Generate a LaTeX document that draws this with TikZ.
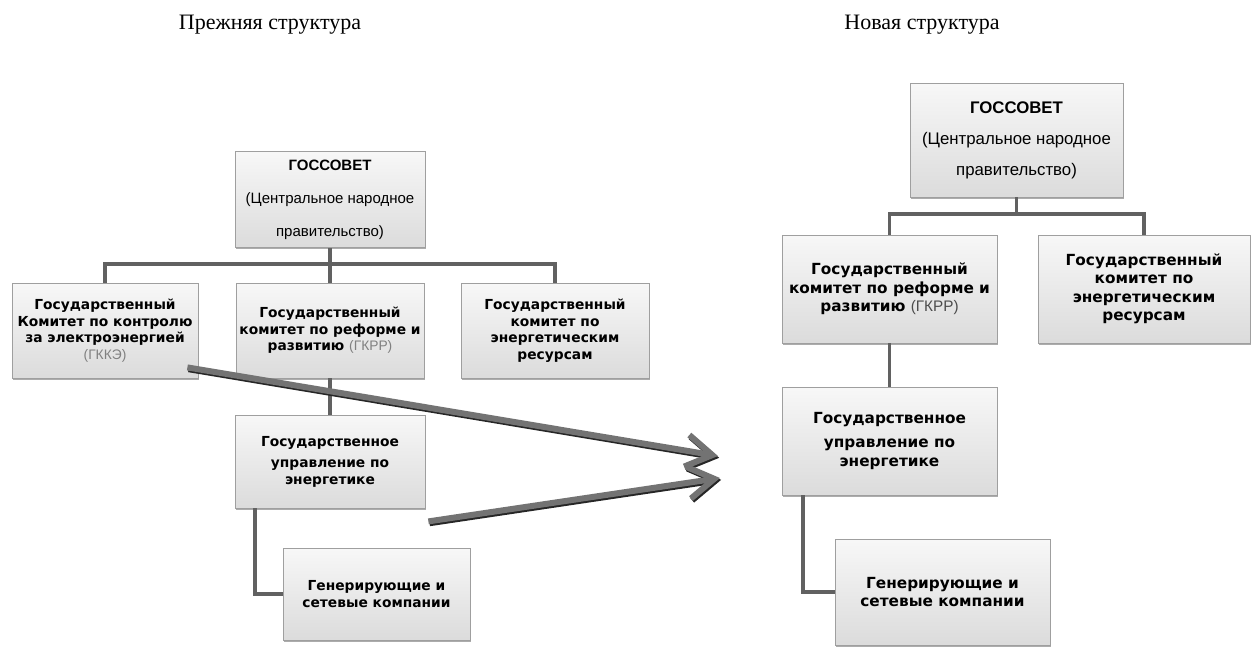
\documentclass[tikz,border=0pt]{standalone}
\usepackage{fontspec}
\setmainfont{Liberation Serif}
\setsansfont{Liberation Sans}
\newfontfamily\boxfont{DejaVu Sans}
\usetikzlibrary{arrows.meta,shadows}

\begin{document}
\begin{tikzpicture}[x=1pt,y=-1pt,
    box/.style={draw=gray!75,line width=0.8pt,top color=gray!6,bottom color=gray!28,
      drop shadow={shadow xshift=1pt,shadow yshift=-1.5pt,fill=gray!70!black,opacity=0.5},
      align=center,inner sep=2pt},
    lbox/.style={box,font=\boxfont\bfseries\fontsize{13.8}{16.5}\selectfont},
    rbox/.style={box,font=\boxfont\bfseries\fontsize{15.3}{18.5}\selectfont},
    lgov/.style={box,font=\sffamily\fontsize{15}{33}\selectfont},
    rgov/.style={box,font=\sffamily\fontsize{16.8}{31}\selectfont},
    link/.style={draw=black!62,line width=3.3pt},
    fat/.style={line width=6pt,-{Straight Barb[length=26pt,width=32pt]}},
    title/.style={font=\fontsize{22}{24}\selectfont,anchor=base}]
  \useasboundingbox (0,0) rectangle (1252,646);
  \node[title] (tl) at (270,29.5) {Прежняя структура};
  \node[title] (tr) at (922,29.5) {Новая структура};
  % прежняя структура
  \node[lgov,minimum width=190pt,minimum height=96pt] (Lgos) at (330,199.5)
    {\textbf{ГОССОВЕТ}\\(Центральное народное\\правительство)};
  \node[lbox,minimum width=186pt,minimum height=95pt] (L1) at (105,330.5)
    {Государственный\\Комитет по контролю\\за электроэнергией\\{\sffamily\mdseries\color{gray}(ГККЭ)}};
  \node[lbox,minimum width=188pt,minimum height=95pt] (L2) at (330,330.5)
    {Государственный\\комитет по реформе и\\развитию {\sffamily\mdseries\color{gray}(ГКРР)}};
  \node[lbox,minimum width=188pt,minimum height=95pt] (L3) at (555,330.5)
    {Государственный\\комитет по\\энергетическим\\ресурсам};
  \node[lbox,minimum width=190pt,minimum height=93pt] (L4) at (330,461.5)
    {Государственное\\[5pt]управление по\\энергетике};
  \node[lbox,minimum width=187pt,minimum height=92pt] (L5) at (376.5,594)
    {Генерирующие и\\сетевые компании};
  \coordinate (lbar) at (330,264);
  \draw[link] (Lgos.south) -- (lbar);
  \draw[link] (L1.north) |- (lbar) -| (L3.north);
  \draw[link] (lbar) -- (L2.north);
  \draw[link] (L2.south) -- (L4.north);
  \draw[link] ([xshift=-75pt]L4.south) |- (L5.west);
  % новая структура
  \node[rgov,minimum width=213pt,minimum height=114pt] (Rgos) at (1016.5,140)
    {\textbf{ГОССОВЕТ}\\(Центральное народное\\правительство)};
  \node[rbox,minimum width=215pt,minimum height=108pt] (R2) at (889.5,289)
    {Государственный\\комитет по реформе и\\развитию {\sffamily\mdseries\color{black!70}(ГКРР)}};
  \node[rbox,minimum width=212pt,minimum height=108pt] (R3) at (1144,289)
    {Государственный\\комитет по\\энергетическим\\ресурсам};
  \node[rbox,minimum width=215pt,minimum height=108pt] (R4) at (889.5,441)
    {Государственное\\[6pt]управление по\\энергетике};
  \node[rbox,minimum width=215pt,minimum height=106pt] (R5) at (942.5,592)
    {Генерирующие и\\сетевые компании};
  \coordinate (rbar) at (1016.5,214);
  \draw[link] (Rgos.south) -- (rbar);
  \draw[link] (R2.north) |- (rbar) -| (R3.north);
  \draw[link] (R2.south) -- (R4.north);
  \draw[link] ([xshift=-86.5pt]R4.south) |- (R5.west);
  % стрелки
  \coordinate (tipA) at (718,456);
  \coordinate (tipB) at (720,478);
  \draw[fat,draw=black!85,transform canvas={xshift=1.2pt,yshift=-1.8pt}]
    ([shift={(-11,-11)}]L1.south east) -- (tipA);
  \draw[fat,draw=black!85,transform canvas={xshift=1.2pt,yshift=-1.8pt}]
    ([shift={(3,13)}]L4.south east) -- (tipB);
  \draw[fat,draw=black!55] ([shift={(-11,-11)}]L1.south east) -- (tipA);
  \draw[fat,draw=black!55] ([shift={(3,13)}]L4.south east) -- (tipB);
\end{tikzpicture}
\end{document}
